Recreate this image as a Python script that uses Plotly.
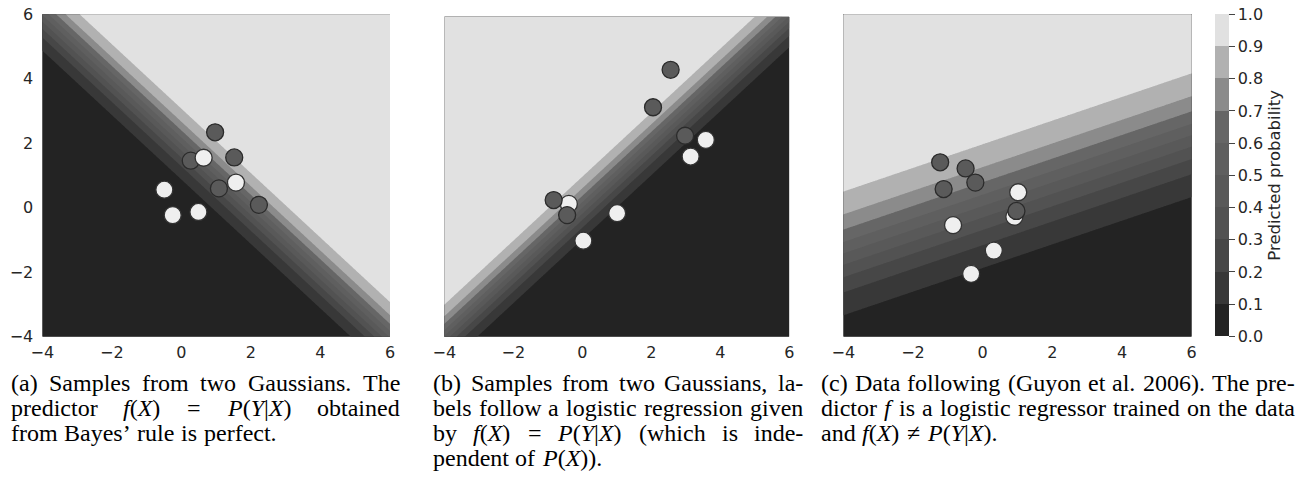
import re
import numpy as np
import plotly.graph_objects as go

W, H = 1298, 477

# ---------------- data ----------------
# scatter samples (label 1 = dark, label 0 = light)
p1_dark_x = [0.97, 0.27, 1.52, 1.08, 2.23]
p1_dark_y = [2.34, 1.46, 1.56, 0.60, 0.09]
p1_light_x = [0.64, 1.57, -0.49, -0.25, 0.49]
p1_light_y = [1.55, 0.78, 0.56, -0.23, -0.13]

p2_dark_x = [2.56, 2.05, 2.98, -0.83, -0.44]
p2_dark_y = [4.34, 3.17, 2.28, 0.27, -0.20]
p2_light_x = [3.58, 3.14, -0.39, 1.01, 0.03]
p2_light_y = [2.15, 1.63, 0.15, -0.14, -1.00]

p3_dark_x = [-1.22, -0.49, -0.21, -1.12, 0.97]
p3_dark_y = [1.41, 1.22, 0.78, 0.58, -0.10]
p3_light_x = [1.02, 0.91, -0.85, 0.32, -0.33]
p3_light_y = [0.48, -0.28, -0.54, -1.33, -2.05]

# logistic predictors  p = sigmoid(a*x + b*y + c)
coef_a = [2.0, -2.25, -0.42]
coef_b = [2.0, 2.25, 1.145]
coef_c = [-3.95, -0.05, -0.057]

levels = [0.0, 0.1, 0.2, 0.3, 0.4, 0.5, 0.6, 0.7, 0.8, 0.9, 1.0]
band_colors = ["#232323", "#383838", "#474747", "#525252", "#595959",
               "#5f5f5f", "#666666", "#8b8b8b", "#b1b1b1", "#e1e1e1"]
cbar_ticktext = ["0.0", "0.1", "0.2", "0.3", "0.4", "0.5", "0.6", "0.7", "0.8", "0.9", "1.0"]
axis_ticks = [-4, -2, 0, 2, 4, 6]

captions = [
    # (x0, x1, lines)  last line is left aligned
    (10, 399, [
        ["(a)", "Samples", "from", "two", "Gaussians.", "The"],
        ["predictor", "<i>f</i>(<i>X</i>)", "=", "<i>P</i>(<i>Y</i>|<i>X</i>)", "obtained"],
        ["from", "Bayes’", "rule", "is", "perfect."],
    ]),
    (432, 802, [
        ["(b)", "Samples", "from", "two", "Gaussians,", "la-"],
        ["bels", "follow", "a", "logistic", "regression", "given"],
        ["by", "<i>f</i>(<i>X</i>)", "=", "<i>P</i>(<i>Y</i>|<i>X</i>)", "(which", "is", "inde-"],
        ["pendent", "of", "<i>P</i>(<i>X</i>))."],
    ]),
    (820, 1294, [
        ["(c)", "Data", "following", "(Guyon", "et", "al.", "2006).", "The", "pre-"],
        ["dictor", "<i>f</i>", "is", "a", "logistic", "regressor", "trained", "on", "the", "data"],
        ["and", "<i>f</i>(<i>X</i>)", "≠", "<i>P</i>(<i>Y</i>|<i>X</i>)."],
    ]),
]

# ---------------- layout helpers ----------------
ROMAN = {' ': 250, '(': 333, ')': 333, ',': 250, '-': 333, '.': 250, '=': 564, '|': 200,
         '’': 333, '≠': 564}
for ch in '0123456789':
    ROMAN[ch] = 500
ROMAN.update(dict(A=722, B=667, C=667, D=722, E=611, F=556, G=722, H=722, I=333, J=389,
                  K=722, L=611, M=889, N=722, O=722, P=556, Q=722, R=667, S=556, T=611,
                  U=722, V=722, W=944, X=722, Y=722, Z=611))
ROMAN.update(dict(a=444, b=500, c=444, d=500, e=444, f=333, g=500, h=500, i=278, j=278,
                  k=500, l=278, m=778, n=500, o=500, p=500, q=500, r=333, s=389, t=278,
                  u=500, v=500, w=722, x=500, y=500, z=444))
ITALIC = {'f': 300, 'X': 640, 'P': 630, 'Y': 580}

CAP_SIZE = 24
CAP_FONT = "'Liberation Serif', 'Times New Roman', Times, serif"


def text_width(s, size):
    w = 0
    italic = False
    for part in re.split(r'(</?i>)', s):
        if part == '<i>':
            italic = True
            continue
        if part == '</i>':
            italic = False
            continue
        for ch in part:
            if italic and ch in ITALIC:
                w += ITALIC[ch]
            else:
                w += ROMAN.get(ch, 500)
    return w * size / 1000.0


annotations = []
BASE0 = 390
LINE_H = 25
for x0, x1, lines in captions:
    for li, words in enumerate(lines):
        widths = [text_width(w, CAP_SIZE) for w in words]
        last = li == len(lines) - 1
        if not last and len(words) > 1:
            gap = (x1 - x0 - sum(widths)) / (len(words) - 1)
        else:
            gap = 0.27 * CAP_SIZE
        yc = BASE0 + li * LINE_H - 7.5
        x = x0
        for w, wd in zip(words, widths):
            annotations.append(dict(
                x=x / W, y=1 - yc / H, xref="paper", yref="paper", text=w,
                xanchor="left", yanchor="middle", showarrow=False, borderpad=0,
                font=dict(family=CAP_FONT, size=CAP_SIZE, color="#000000")))
            x += wd + gap

# ---------------- figure ----------------
gx = np.linspace(-4, 6, 301)
gy = np.linspace(-4, 6, 301)
XX, YY = np.meshgrid(gx, gy)

colorscale = []
for k, col in enumerate(band_colors):
    colorscale.append([levels[k], col])
    colorscale.append([levels[k + 1], col])

fig = go.Figure()

TICK_FONT = dict(family="'DejaVu Sans'", size=16, color="#262626")

panels = [
    dict(xd=[42.3, 390.0], yd=[14.3, 336.7],
         dark=(p1_dark_x, p1_dark_y), light=(p1_light_x, p1_light_y), light_on_top=True),
    dict(xd=[444.3, 789.3], yd=[16.7, 336.7],
         dark=(p2_dark_x, p2_dark_y), light=(p2_light_x, p2_light_y), light_on_top=False),
    dict(xd=[843.3, 1191.7], yd=[14.3, 336.7],
         dark=(p3_dark_x, p3_dark_y), light=(p3_light_x, p3_light_y), light_on_top=False),
]

dark_marker = dict(size=17, color="#5a5a5a", line=dict(color="#2b2b2b", width=1.3))
light_marker = dict(size=17, color="#efefef", line=dict(color="#333333", width=1.3))

for i, pn in enumerate(panels):
    xa = "x" if i == 0 else f"x{i+1}"
    ya = "y" if i == 0 else f"y{i+1}"
    Z = 1.0 / (1.0 + np.exp(-(coef_a[i] * XX + coef_b[i] * YY + coef_c[i])))
    cb = None
    if i == 2:
        cb = dict(
            x=1215 / W, xanchor="left", xpad=0, ypad=0,
            y=1 - 14.3 / H, yanchor="top", len=(336.7 - 14.3) / H, lenmode="fraction",
            thickness=14, outlinewidth=0,
            tickvals=levels, ticktext=cbar_ticktext, ticks="outside", ticklen=6,
            tickcolor="#444444", tickwidth=1, tickfont=TICK_FONT,
            title=dict(text="Predicted probability", side="right",
                       font=dict(family="'DejaVu Sans'", size=16.5, color="#262626")),
        )
    fig.add_trace(go.Contour(
        x=gx, y=gy, z=Z, xaxis=xa, yaxis=ya, zmin=0, zmax=1,
        contours=dict(start=0, end=1, size=0.1, coloring="fill", showlines=False),
        line=dict(width=0), colorscale=colorscale, showscale=(i == 2),
        colorbar=cb, hoverinfo="skip"))
    order = [("dark", dark_marker), ("light", light_marker)]
    if not pn["light_on_top"]:
        order = order[::-1]
    for key, mk in order:
        xs, ys = pn[key]
        fig.add_trace(go.Scatter(x=xs, y=ys, mode="markers", marker=mk,
                                 xaxis=xa, yaxis=ya, showlegend=False, hoverinfo="skip"))

    xdom = [pn["xd"][0] / W, pn["xd"][1] / W]
    ydom = [1 - pn["yd"][1] / H, 1 - pn["yd"][0] / H]
    xkey = "xaxis" if i == 0 else f"xaxis{i+1}"
    ykey = "yaxis" if i == 0 else f"yaxis{i+1}"
    fig.layout[xkey] = dict(domain=xdom, range=[-4, 6], anchor=ya, tickvals=axis_ticks,
                            showgrid=False, zeroline=False, showline=False, ticks="",
                            tickfont=TICK_FONT, ticklabelstandoff=4)
    fig.layout[ykey] = dict(domain=ydom, range=[-4, 6], anchor=xa, tickvals=axis_ticks,
                            showgrid=False, zeroline=False, showline=False, ticks="",
                            showticklabels=(i == 0), tickfont=TICK_FONT,
                            ticklabelstandoff=8)

fig.update_layout(
    width=W, height=H,
    margin=dict(l=0, r=0, t=0, b=0, autoexpand=False),
    paper_bgcolor="white", plot_bgcolor="white",
    showlegend=False, annotations=annotations,
)

fig.write_html("out.html")
